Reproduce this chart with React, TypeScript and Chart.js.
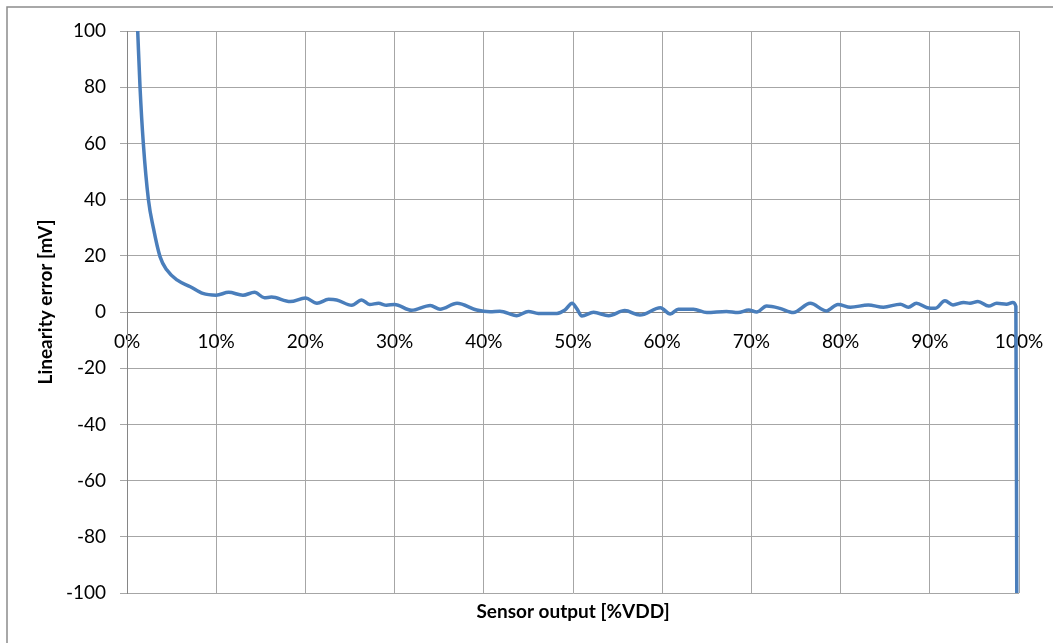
import { useEffect, useRef } from "react";
import { Chart, registerables } from "chart.js";

Chart.register(...registerables);

// Sensor output in % of VDD
const sensorOutput = [
  1.2, 1.46, 1.83, 2.4, 2.95, 3.7, 4.45, 5.6, 7.1, 8.5,
  10.0, 11.4, 13.0, 14.3, 15.4, 16.2, 18.3, 20.0, 21.3, 22.6,
  23.5, 25.2, 26.3, 27.2, 28.2, 29.1, 30.0, 31.9, 34.0, 35.1,
  37.0, 39.2, 40.7, 41.8, 43.7, 45.0, 46.1, 48.2, 49.1, 49.9,
  50.4, 51.0, 52.3, 54.0, 55.8, 57.5, 59.8, 60.9, 61.8, 63.5,
  65.0, 67.2, 68.5, 69.7, 70.6, 71.7, 73.2, 74.7, 76.6, 78.4,
  79.7, 81.1, 83.1, 84.8, 86.7, 87.6, 88.5, 89.7, 90.6, 91.7,
  92.6, 93.8, 94.5, 95.4, 96.6, 97.5, 98.6, 99.3, 99.65, 99.75,
];

// Linearity error in mV
const linearityError = [
  100, 80, 60, 40, 30, 19.7, 15, 11.4, 9, 6.6,
  6.0, 7.0, 6.0, 7.0, 5.1, 5.3, 3.7, 5.0, 3.1, 4.5,
  4.3, 2.4, 4.3, 2.7, 3.1, 2.4, 2.7, 0.6, 2.3, 1.0,
  3.1, 0.7, 0.1, 0.3, -1.3, 0.2, -0.5, -0.5, 0.7, 3.1,
  1.3, -1.4, -0.1, -1.3, 0.5, -1.1, 1.5, -0.7, 1.0, 1.0,
  -0.2, 0.2, -0.2, 0.7, 0.0, 2.1, 1.3, -0.2, 3.1, 0.4,
  2.7, 1.7, 2.5, 1.7, 2.8, 1.7, 3.1, 1.5, 1.3, 4.0,
  2.5, 3.4, 3.1, 3.7, 2.1, 3.1, 2.8, 3.4, 2.0, -100,
];

const xTickValues = [0, 10, 20, 30, 40, 50, 60, 70, 80, 90, 100];
const yTickValues = [-100, -80, -60, -40, -20, 0, 20, 40, 60, 80, 100];

const xTitle = "Sensor output [%VDD]";
const yTitle = "Linearity error [mV]";

const FONT = "Lato, Carlito, 'DejaVu Sans', sans-serif";
const GRID = "#a6a6a6";
const AXIS = "#868686";

// Outer chart frame and the two axis titles
const decorations = {
  id: "decorations",
  beforeDraw(chart: Chart) {
    const { ctx } = chart;
    ctx.save();
    ctx.strokeStyle = "#8c8c8c";
    ctx.lineWidth = 1.5;
    ctx.strokeRect(7, 7, 1200, 1200);
    ctx.restore();
  },
  afterDraw(chart: Chart) {
    const { ctx, chartArea } = chart;
    ctx.save();
    ctx.fillStyle = "#000";
    ctx.font = `bold 19px ${FONT}`;
    ctx.textAlign = "center";
    ctx.textBaseline = "middle";
    ctx.fillText(xTitle, (chartArea.left + chartArea.right) / 2, 612);
    ctx.translate(46, 302);
    ctx.rotate(-Math.PI / 2);
    ctx.fillText(yTitle, 0, 0);
    ctx.restore();
  },
};

export default function App() {
  const canvasRef = useRef<HTMLCanvasElement | null>(null);

  useEffect(() => {
    if (!canvasRef.current) return;
    const points = sensorOutput.map((x, i) => ({ x, y: linearityError[i] }));
    const chart = new Chart(canvasRef.current, {
      type: "line",
      data: {
        datasets: [
          {
            data: points,
            borderColor: "#4a7ebb",
            borderWidth: 3.5,
            pointRadius: 0,
            cubicInterpolationMode: "monotone",
            fill: false,
          },
        ],
      },
      options: {
        animation: false,
        responsive: true,
        maintainAspectRatio: false,
        layout: { padding: { left: 0, top: 31, right: 34, bottom: 50 } },
        plugins: {
          legend: { display: false },
          tooltip: { enabled: false },
        },
        scales: {
          x: {
            type: "linear",
            position: { y: 0 },
            min: 0,
            max: 100,
            afterBuildTicks: (s: any) => {
              s.ticks = xTickValues.map((v) => ({ value: v }));
            },
            afterFit: (s: any) => {
              s.paddingLeft = 0;
              s.paddingRight = 0;
            },
            ticks: {
              callback: (v: any) => `${v}%`,
              color: "#000",
              font: { family: FONT, size: 19 },
              padding: 18,
              maxRotation: 0,
              autoSkip: false,
            },
            grid: { color: GRID, lineWidth: 1, drawTicks: false },
            border: { color: AXIS, width: 1 },
          },
          y: {
            type: "linear",
            position: "left",
            min: -100,
            max: 100,
            afterBuildTicks: (s: any) => {
              s.ticks = yTickValues.map((v) => ({ value: v }));
            },
            afterFit: (s: any) => {
              s.width = 127;
            },
            ticks: {
              color: "#000",
              font: { family: FONT, size: 19 },
              padding: 14,
            },
            grid: { color: GRID, lineWidth: 1, tickLength: 7 },
            border: { color: AXIS, width: 1 },
          },
        },
      },
      plugins: [decorations],
    });
    return () => chart.destroy();
  }, []);

  return (
    <div
      style={{
        position: "absolute",
        left: 0,
        top: 0,
        width: 1053,
        height: 643,
        background: "#fff",
      }}
    >
      <canvas ref={canvasRef} />
    </div>
  );
}
